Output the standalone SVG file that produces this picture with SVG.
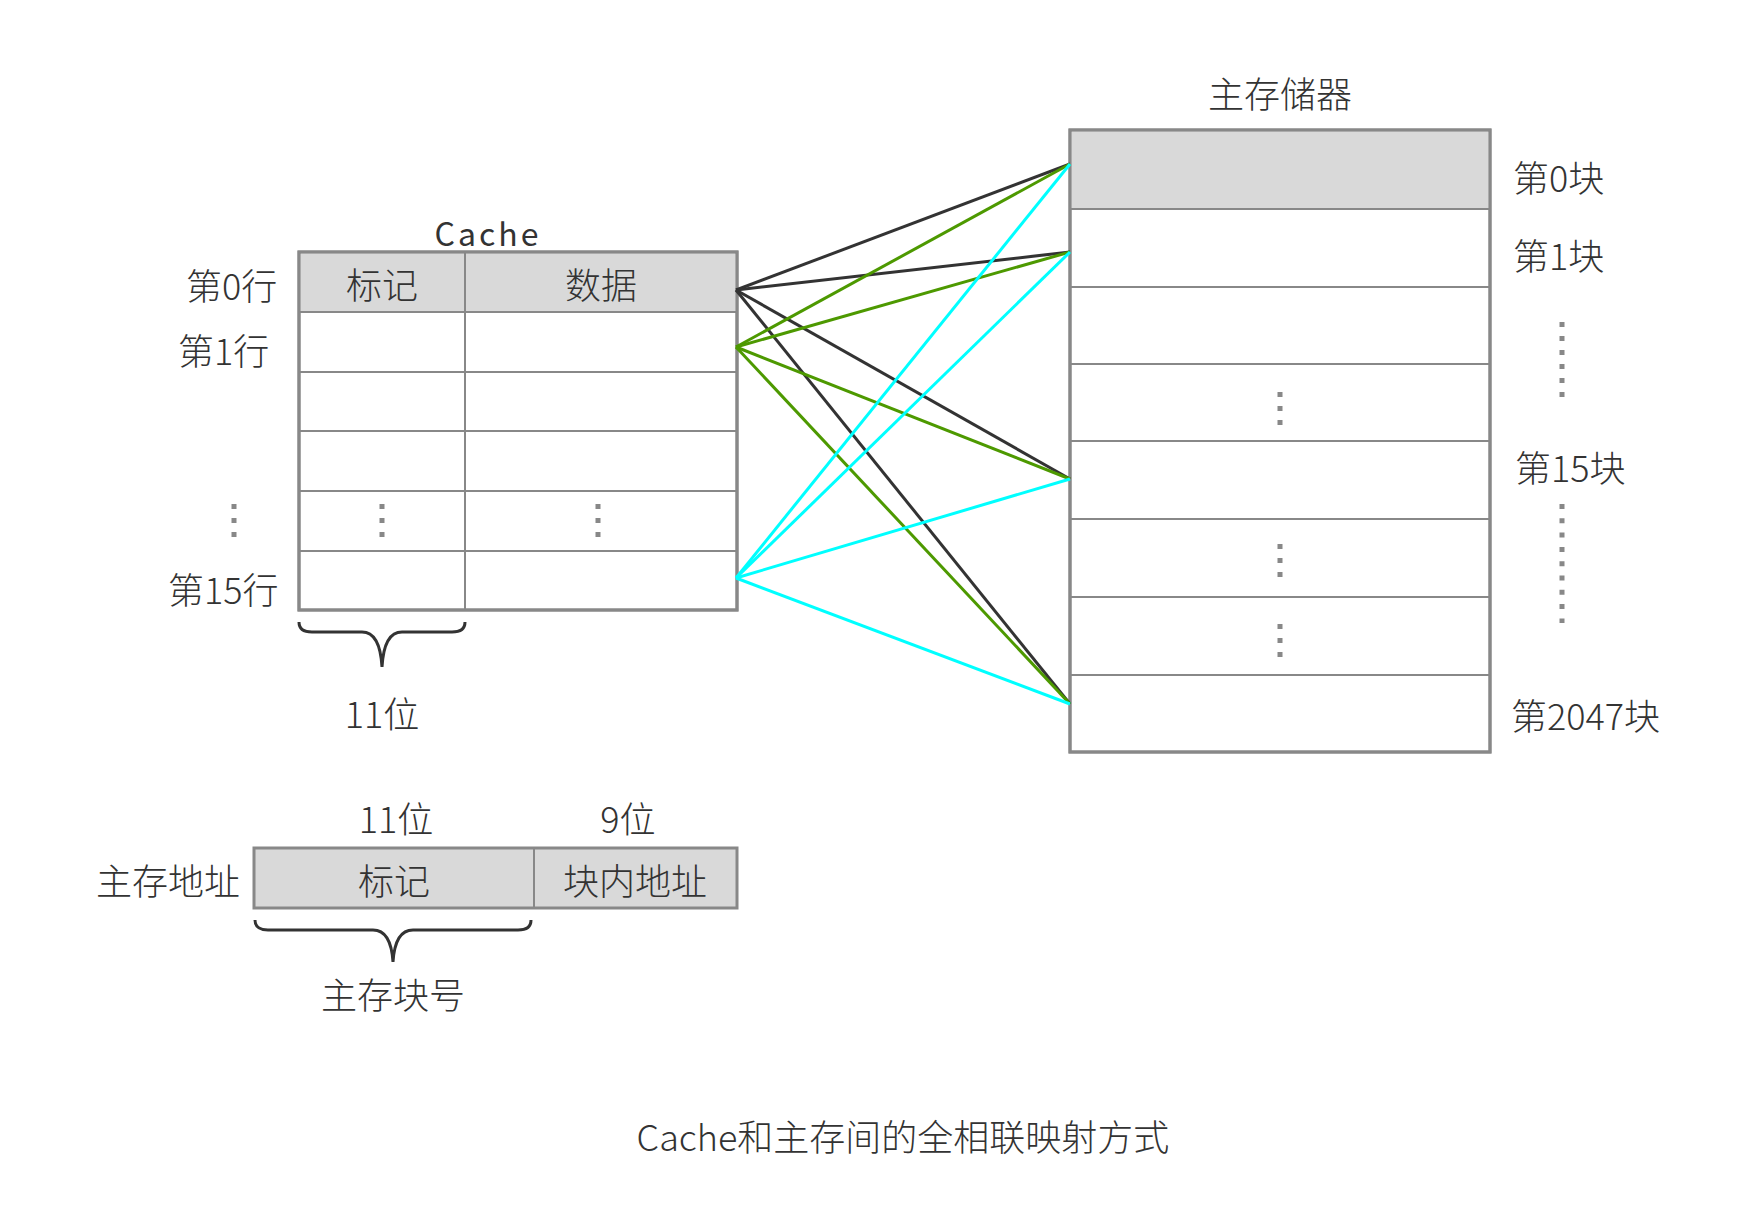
<svg xmlns="http://www.w3.org/2000/svg" width="1760" height="1228" viewBox="0 0 1760 1228">
<style>
.t{font-family:"Noto Sans CJK SC","Noto Sans",sans-serif;font-size:36px;font-weight:300;fill:#333333}
.c{text-anchor:middle}
.box{fill:#ffffff;stroke:#888888;stroke-width:3}
.hdr{fill:#d9d9d9}
.ln{stroke:#888888;stroke-width:2;fill:none}
.dot{stroke:#888888;stroke-width:5;stroke-dasharray:5 9;fill:none}
.dot2{stroke:#888888;stroke-width:5;stroke-dasharray:5 9.3;fill:none}
.brace{stroke:#333333;stroke-width:3;fill:none}
.k{stroke:#333333;stroke-width:3}
.g{stroke:#4d9900;stroke-width:3}
.y{stroke:#00ffff;stroke-width:3}
</style>
<rect width="1760" height="1228" fill="#ffffff"/>

<g id="cache">
<text class="t c" x="488" y="246" style="font-size:32px;letter-spacing:3px;font-weight:400">Cache</text>
<rect class="box" x="299" y="252" width="438" height="358"/>
<rect class="hdr" x="300.5" y="253.5" width="435" height="58.5"/>
<line class="ln" x1="299" y1="312" x2="737" y2="312"/>
<line class="ln" x1="299" y1="372" x2="737" y2="372"/>
<line class="ln" x1="299" y1="431" x2="737" y2="431"/>
<line class="ln" x1="299" y1="491" x2="737" y2="491"/>
<line class="ln" x1="299" y1="551" x2="737" y2="551"/>
<line class="ln" x1="465" y1="252" x2="465" y2="610"/>
<rect x="299" y="252" width="438" height="358" fill="none" stroke="#888888" stroke-width="3"/>
<text class="t c" x="382" y="299">标记</text>
<text class="t c" x="601" y="299">数据</text>
<line class="dot" x1="382" y1="504" x2="382" y2="538"/>
<line class="dot" x1="598" y1="504" x2="598" y2="538"/>
</g>

<g id="cache-rows">
<text class="t" x="186" y="300">第0行</text>
<text class="t" x="178" y="365">第1行</text>
<line class="dot" x1="234" y1="504" x2="234" y2="538"/>
<text class="t" x="168" y="604">第15行</text>
</g>

<g id="tag-brace">
<path class="brace" d="M299,622 Q299,632 312,632 L362,632 Q380,632 382,667 Q384,632 402,632 L452,632 Q465,632 465,622"/>
<text class="t c" x="382" y="728">11位</text>
</g>

<g id="memory">
<text class="t c" x="1280" y="108">主存储器</text>
<rect class="box" x="1070" y="130" width="420" height="622"/>
<rect class="hdr" x="1071.5" y="131.5" width="417" height="77.5"/>
<line class="ln" x1="1070" y1="209" x2="1490" y2="209"/>
<line class="ln" x1="1070" y1="287" x2="1490" y2="287"/>
<line class="ln" x1="1070" y1="364" x2="1490" y2="364"/>
<line class="ln" x1="1070" y1="441" x2="1490" y2="441"/>
<line class="ln" x1="1070" y1="519" x2="1490" y2="519"/>
<line class="ln" x1="1070" y1="597" x2="1490" y2="597"/>
<line class="ln" x1="1070" y1="675" x2="1490" y2="675"/>
<rect x="1070" y="130" width="420" height="622" fill="none" stroke="#888888" stroke-width="3"/>
<line class="dot" x1="1280" y1="392" x2="1280" y2="426"/>
<line class="dot" x1="1280" y1="544" x2="1280" y2="578"/>
<line class="dot" x1="1280" y1="624" x2="1280" y2="658"/>
</g>

<g id="memory-blocks">
<text class="t" x="1513" y="192">第0块</text>
<text class="t" x="1513" y="270">第1块</text>
<line class="dot" x1="1562" y1="322" x2="1562" y2="398"/>
<text class="t" x="1515" y="482">第15块</text>
<line class="dot2" x1="1562" y1="504" x2="1562" y2="623"/>
<text class="t" x="1511" y="730">第2047块</text>
</g>

<g id="connectors">
<line class="k" x1="736" y1="290" x2="1070" y2="164"/>
<line class="k" x1="736" y1="290" x2="1070" y2="252"/>
<line class="k" x1="736" y1="290" x2="1070" y2="479"/>
<line class="k" x1="736" y1="290" x2="1070" y2="704"/>
<line class="g" x1="736" y1="347" x2="1070" y2="164"/>
<line class="g" x1="736" y1="347" x2="1070" y2="252"/>
<line class="g" x1="736" y1="347" x2="1070" y2="479"/>
<line class="g" x1="736" y1="347" x2="1070" y2="704"/>
<line class="y" x1="736" y1="578" x2="1070" y2="164"/>
<line class="y" x1="736" y1="578" x2="1070" y2="252"/>
<line class="y" x1="736" y1="578" x2="1070" y2="479"/>
<line class="y" x1="736" y1="578" x2="1070" y2="704"/>
</g>

<g id="address">
<text class="t c" x="396" y="833">11位</text>
<text class="t c" x="628" y="833">9位</text>
<text class="t" x="96" y="895">主存地址</text>
<rect class="box hdr" x="254" y="848" width="483" height="60" style="fill:#d9d9d9"/>
<line class="ln" x1="534" y1="848" x2="534" y2="908"/>
<text class="t c" x="394" y="895">标记</text>
<text class="t c" x="635" y="895">块内地址</text>
</g>

<g id="block-brace">
<path class="brace" d="M255,920 Q255,930 268,930 L373,930 Q391,930 393,962 Q395,930 413,930 L518,930 Q531,930 531,920"/>
<text class="t c" x="393" y="1009">主存块号</text>
</g>

<g id="caption">
<text class="t c" x="903" y="1151">Cache和主存间的全相联映射方式</text>
</g>
</svg>
